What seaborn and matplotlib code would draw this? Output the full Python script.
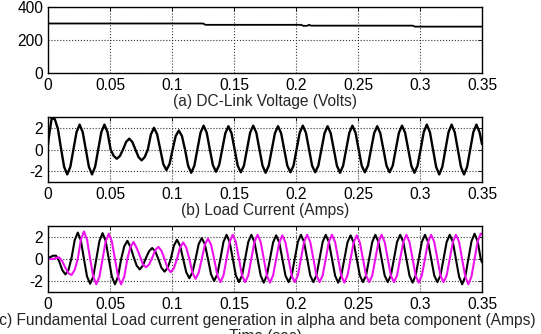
import numpy as np
import pandas as pd
import matplotlib
matplotlib.use("Agg")
import matplotlib.pyplot as plt
import seaborn as sns

# (a) DC-link voltage (sec, volts)
t_dc = [0, 0.125, 0.127, 0.204, 0.206, 0.209, 0.2105, 0.212, 0.294, 0.296, 0.35]
v_dc = [300, 300, 292, 292, 286, 286, 292, 287, 287, 281, 281]

# (b) load current, sampled every 2.5 ms (one row = one 20 ms cycle)
t_load = np.concatenate([[0], np.round(np.arange(0.0005, 0.35, 0.0025), 4), [0.35]])
i_load = [0.4,
          1.0, 2.9, 2.8, 1.9, 0.1, -1.6, -2.3, -1.6,
          0.0, 1.6, 2.3, 1.6, 0.0, -1.6, -2.3, -1.6,
          0.0, 1.6, 2.3, 1.6, 0.0, -0.6, -0.85, -0.6,
          0.0, 0.7, 1.0, 0.7, 0.0, -0.7, -1.0, -0.7,
          0.0, 1.4, 2.0, 1.4, 0.0, -1.35, -1.9, -1.35,
          0.0, 1.25, 1.75, 1.25, 0.0, -1.5, -2.15, -1.5,
          0.0, 1.55, 2.2, 1.55, 0.0, -1.45, -2.05, -1.45,
          0.0, 1.5, 2.15, 1.5, 0.0, -1.5, -2.1, -1.5,
          0.0, 1.55, 2.2, 1.55, 0.0, -1.5, -2.15, -1.5,
          0.0, 1.5, 2.15, 1.5, 0.0, -1.5, -2.1, -1.5,
          0.0, 1.55, 2.2, 1.55, 0.0, -1.5, -2.1, -1.5,
          0.0, 1.5, 2.15, 1.5, 0.0, -1.5, -2.15, -1.5,
          0.0, 1.55, 2.2, 1.55, 0.0, -1.5, -2.1, -1.5,
          0.0, 1.5, 2.15, 1.5, 0.0, -1.5, -2.1, -1.5,
          0.0, 1.55, 2.2, 1.55, 0.0, -1.5, -2.15, -1.5,
          0.0, 1.6, 2.3, 1.6, 0.0, -1.6, -2.3, -1.6,
          0.0, 1.6, 2.3, 1.6, 0.0, -1.6, -2.3, -1.6,
          0.0, 1.6, 2.3, 1.6,
          0.5]

# (c) alpha / beta fundamental components, same 2.5 ms sampling
t_ab = np.concatenate([[0], np.round(np.arange(0.0015, 0.35, 0.0025), 4), [0.35]])
i_alpha = [0.0,
           0.15, 0.3, 0.3, -0.2, -1.0, -1.4, -1.0, 0.1,
           1.7, 2.4, 1.7, 0.0, -1.6, -2.25, -1.6, 0.0,
           1.65, 2.35, 1.65, 0.0, -1.6, -2.3, -1.6, 0.0,
           1.15, 1.65, 1.1, 0.2, -0.6, -0.95, -0.6, 0.1,
           0.7, 1.0, 0.7, 0.0, -0.8, -1.15, -0.8, 0.0,
           1.2, 1.75, 1.2, 0.0, -1.2, -1.75, -1.2, 0.0,
           1.35, 1.9, 1.35, 0.0, -1.4, -2.0, -1.4, 0.0,
           1.55, 2.2, 1.55, 0.0, -1.5, -2.1, -1.5, 0.0,
           1.55, 2.2, 1.55, 0.0, -1.5, -2.15, -1.5, 0.0,
           1.5, 2.15, 1.5, 0.0, -1.5, -2.1, -1.5, 0.0,
           1.55, 2.2, 1.55, 0.0, -1.5, -2.1, -1.5, 0.0,
           1.55, 2.2, 1.55, 0.0, -1.5, -2.15, -1.5, 0.0,
           1.5, 2.15, 1.5, 0.0, -1.5, -2.1, -1.5, 0.0,
           1.55, 2.2, 1.55, 0.0, -1.5, -2.1, -1.5, 0.0,
           1.55, 2.2, 1.55, 0.0, -1.5, -2.15, -1.5, 0.0,
           1.55, 2.2, 1.55, 0.0, -1.5, -2.1, -1.5, 0.0,
           1.55, 2.2, 1.55, 0.0, -1.6, -2.3, -1.6, 0.0,
           1.6, 2.3, 1.6, 0.0,
           -0.3]
i_beta = [0.0,
          0.0, 0.0, 0.1, 0.15, -0.2, -0.8, -1.3, -1.45,
          -1.0, 0.0, 1.75, 2.5, 1.75, 0.0, -1.6, -2.3,
          -1.6, 0.0, 1.6, 2.3, 1.6, 0.0, -1.6, -2.3,
          -1.6, 0.0, 1.1, 1.55, 1.0, 0.3, -0.5, -0.75,
          -0.5, 0.1, 0.8, 1.1, 0.75, 0.0, -0.85, -1.2,
          -0.85, 0.0, 1.05, 1.5, 1.05, 0.0, -1.25, -1.8,
          -1.25, 0.0, 1.3, 1.85, 1.3, 0.0, -1.45, -2.1,
          -1.5, 0.0, 1.55, 2.2, 1.55, 0.0, -1.5, -2.1,
          -1.5, 0.0, 1.55, 2.2, 1.55, 0.0, -1.5, -2.15,
          -1.5, 0.0, 1.5, 2.15, 1.5, 0.0, -1.5, -2.1,
          -1.5, 0.0, 1.55, 2.2, 1.55, 0.0, -1.5, -2.1,
          -1.5, 0.0, 1.55, 2.2, 1.55, 0.0, -1.5, -2.15,
          -1.5, 0.0, 1.5, 2.15, 1.5, 0.0, -1.5, -2.1,
          -1.5, 0.0, 1.55, 2.2, 1.55, 0.0, -1.5, -2.1,
          -1.5, 0.0, 1.55, 2.2, 1.55, 0.0, -1.5, -2.15,
          -1.5, 0.0, 1.55, 2.2, 1.55, 0.0, -1.5, -2.1,
          -1.5, 0.0, 1.55, 2.2, 1.55, 0.0, -1.6, -2.3,
          -1.6, 0.0, 1.6, 2.3,
          2.3]

x_ticks = [0, 0.05, 0.1, 0.15, 0.2, 0.25, 0.3, 0.35]
x_ticklabels = ["0", "0.05", "0.1", "0.15", "0.2", "0.25", "0.3", "0.35"]
labels = ["(a) DC-Link Voltage (Volts)",
          "(b) Load Current (Amps)",
          "(c) Fundamental Load current generation in alpha and beta component (Amps)\nTime (sec)"]

sns.set_theme(style="white")
plt.rcParams['font.family'] = ['Liberation Sans', 'DejaVu Sans']
FS = 11.2

fig = plt.figure(figsize=(5.41, 3.34), dpi=100)
left, width = 48 / 541, 434 / 541
ax_a = fig.add_axes([left, 1 - 73 / 334, width, 66 / 334])
ax_b = fig.add_axes([left, 1 - 182 / 334, width, 65 / 334])
ax_c = fig.add_axes([left, 1 - 292 / 334, width, 66 / 334])

df_dc = pd.DataFrame({"t": t_dc, "v": v_dc})
df_load = pd.DataFrame({"t": t_load, "i": i_load})
df_ab = pd.DataFrame({"t": t_ab, "alpha": i_alpha, "beta": i_beta})

sns.lineplot(data=df_dc, x="t", y="v", ax=ax_a, color="black", linewidth=1.3, estimator=None)
sns.lineplot(data=df_load, x="t", y="i", ax=ax_b, color="black", linewidth=1.7, estimator=None)
sns.lineplot(data=df_ab, x="t", y="alpha", ax=ax_c, color="black", linewidth=1.5, estimator=None)
sns.lineplot(data=df_ab, x="t", y="beta", ax=ax_c, color="#ee11ee", linewidth=1.5, estimator=None)

ax_a.set_ylim(0, 400)
ax_a.set_yticks([0, 200, 400])
for ax in (ax_b, ax_c):
    ax.set_ylim(-3, 3)
    ax.set_yticks([-2, 0, 2])
    ax.set_yticklabels(["-2", "0", "2"])

for ax, lab in zip((ax_a, ax_b, ax_c), labels):
    ax.set_xlim(0, 0.35)
    ax.set_xticks(x_ticks)
    ax.set_xticklabels(x_ticklabels)
    ax.set_xlabel(lab, fontsize=FS, labelpad=1, linespacing=1.05)
    ax.set_ylabel("")
    ax.grid(True, color="0.2", linestyle=":", linewidth=0.8)
    ax.tick_params(direction="in", length=3, width=0.6, labelsize=FS, pad=3.5,
                   colors="black", top=True, right=True)
    for sp in ax.spines.values():
        sp.set_color("black")
        sp.set_linewidth(1.0)

fig.savefig("out.png", dpi=100)
